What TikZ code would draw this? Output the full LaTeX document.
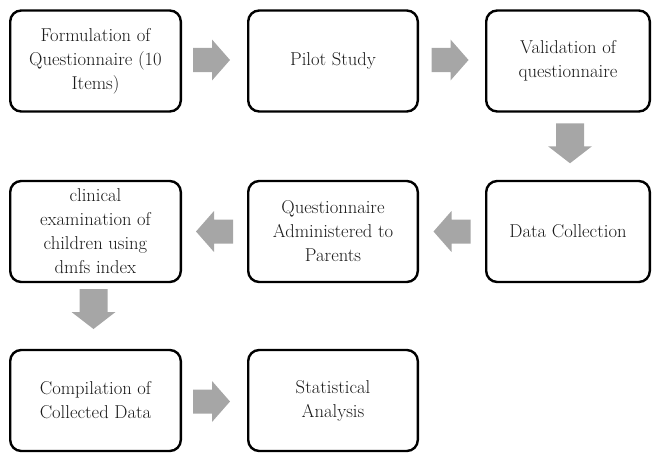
\documentclass[tikz,border=0pt]{standalone}
\usetikzlibrary{calc}
\definecolor{arrgray}{HTML}{A6A6A6}
\definecolor{txt}{HTML}{1A1A1A}
\tikzset{
  box/.style={draw=black, line width=2.4pt, rounded corners=11pt, align=center,
    font=\fontsize{18.6}{24}\selectfont, text=txt, inner sep=0pt, minimum height=101},
  boxA/.style={box, minimum width=170.6},
  boxB/.style={box, minimum width=169.6},
  boxC/.style={box, minimum width=163.6},
  harr/.pic={\fill[arrgray] (-18.5,-12) -- (0.5,-12) -- (0.5,-20.5) -- (18.5,0) -- (0.5,20.5) -- (0.5,12) -- (-18.5,12) -- cycle;},
  varr/.pic={\fill[arrgray] (-14,-20) -- (14,-20) -- (14,3) -- (22,3) -- (0,20) -- (-22,3) -- (-14,3) -- cycle;}
}
\begin{document}
\begin{tikzpicture}[x=1pt,y=-1pt]
\useasboundingbox (0,0) rectangle (652,452);
% row 1
\node[boxA] (b1) at (95.5,61) {Formulation of\\Questionnaire (10\\Items)};
\node[boxB] (b2) at (333,61) {Pilot Study};
\node[boxC] (b3) at (568,61) {Validation of\\questionnaire};
% row 2
\node[boxC] (b4) at (568,231.5) {Data Collection};
\node[boxB] (b5) at (333,231.5) {Questionnaire\\Administered to\\Parents};
\node[boxA] (b6) at (95.5,231.5) {clinical\\examination of\\children using\\dmfs index};
% row 3
\node[boxA] (b7) at (95.5,400.5) {Compilation of\\Collected Data};
\node[boxB] (b8) at (333,400.5) {Statistical\\Analysis};
% arrows
\pic (a12) at ($(b1.east)!0.5!(b2.west)+(-3,-1)$) {harr};
\pic (a23) at ($(b2.east)!0.5!(b3.west)+(-2,-1)$) {harr};
\pic (a34) at ($(b3.south)!0.5!(b4.north)+(2,-3)$) {varr};
\pic[xscale=-1] (a45) at ($(b4.west)!0.5!(b5.east)+(0,0)$) {harr};
\pic[xscale=-1] (a56) at ($(b5.west)!0.5!(b6.east)$) {harr};
\pic (a67) at ($(b6.south)!0.5!(b7.north)+(-2,-7)$) {varr};
\pic (a78) at ($(b7.east)!0.5!(b8.west)+(-3,1)$) {harr};
\end{tikzpicture}
\end{document}
